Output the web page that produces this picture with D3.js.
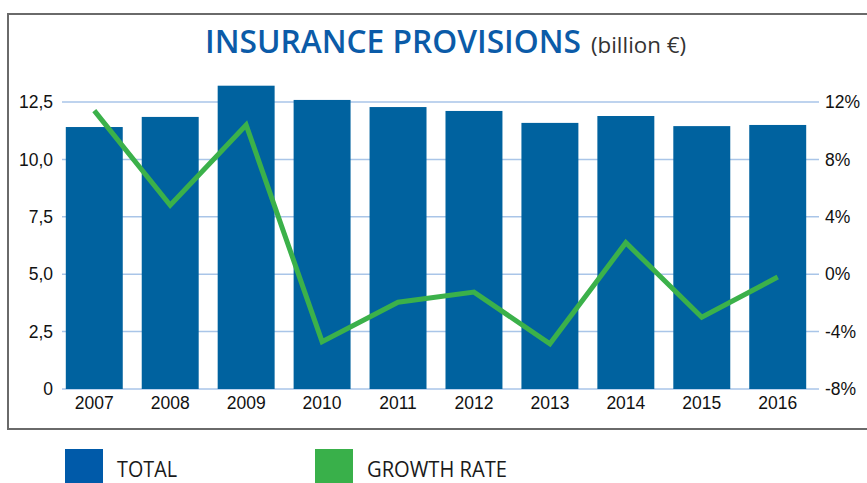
<!DOCTYPE html>
<html>
<head>
<meta charset="utf-8">
<script src="https://cdn.jsdelivr.net/npm/d3@7"></script>
<style>
  body { margin: 0; background: #fff; }
  svg { display: block; font-family: 'Open Sans', sans-serif; }
  .axis text { font-size: 17.5px; fill: #111; }
</style>
</head>
<body>
<svg class="visual" width="867" height="483"></svg>
<script>
// values
const YEARS = ['2007', '2008', '2009', '2010', '2011', '2012', '2013', '2014', '2015', '2016'];
const TOTAL = [11.41, 11.85, 13.21, 12.59, 12.28, 12.11, 11.59, 11.89, 11.45, 11.50];
const GROWTH = [11.4, 4.8, 10.4, -4.7, -1.95, -1.25, -4.85, 2.2, -3.0, -0.2];
const LEFT_TICKS = [0, 2.5, 5, 7.5, 10, 12.5];
const RIGHT_TICKS = [-8, -4, 0, 4, 8, 12];

const barColor = '#00629f';
const lineColor = '#3bb14a';
const gridColor = '#a9c5e8';

const svg = d3.select('svg');

// frame round the chart (right edge runs off the page)
svg.append('rect')
    .attr('x', 8).attr('y', 14)
    .attr('width', 880).attr('height', 415)
    .attr('fill', 'none')
    .attr('stroke', '#6a6a6a')
    .attr('stroke-width', 2);

// title
svg.append('text')
    .attr('x', 205).attr('y', 53)
    .attr('font-size', 33)
    .attr('font-weight', 600)
    .attr('fill', '#0b5ba8')
    .attr('textLength', 376)
    .attr('lengthAdjust', 'spacingAndGlyphs')
    .text('INSURANCE PROVISIONS');
svg.append('text')
    .attr('x', 591).attr('y', 53)
    .attr('font-size', 22)
    .attr('fill', '#333')
    .attr('textLength', 95)
    .attr('lengthAdjust', 'spacingAndGlyphs')
    .text('(billion €)');

const x = d3.scaleBand()
    .domain(YEARS)
    .range([62, 810])
    .paddingInner(0.25)
    .paddingOuter(0.05);

const yLeft = d3.scaleLinear()
    .domain([0, 12.5])
    .range([389, 102]);

const yRight = d3.scaleLinear()
    .domain([-8, 12])
    .range([389, 102]);

// gridlines behind the bars
svg.append('g')
    .selectAll('line')
    .data(LEFT_TICKS)
    .enter()
    .append('line')
    .attr('x1', 62).attr('x2', 819)
    .attr('y1', d => yLeft(d)).attr('y2', d => yLeft(d))
    .attr('stroke', gridColor)
    .attr('stroke-width', 1.5);

// bars
svg.append('g')
    .selectAll('rect')
    .data(TOTAL)
    .enter()
    .append('rect')
    .attr('x', (d, i) => x(YEARS[i]))
    .attr('width', x.bandwidth())
    .attr('y', d => yLeft(d))
    .attr('height', d => yLeft(0) - yLeft(d))
    .attr('fill', barColor);

// growth rate line
const line = d3.line()
    .x((d, i) => x(YEARS[i]) + x.bandwidth() / 2)
    .y(d => yRight(d));

svg.append('path')
    .datum(GROWTH)
    .attr('d', line)
    .attr('fill', 'none')
    .attr('stroke', lineColor)
    .attr('stroke-width', 5);

// axes
const fmtLeft = d => d === 0 ? '0' : d3.format('.1f')(d).replace('.', ',');

svg.append('g')
    .attr('class', 'axis')
    .attr('transform', 'translate(62,0)')
    .call(d3.axisLeft(yLeft).tickValues(LEFT_TICKS).tickSize(0).tickPadding(9).tickFormat(fmtLeft))
    .call(g => g.select('.domain').remove());

svg.append('g')
    .attr('class', 'axis')
    .attr('transform', 'translate(819,0)')
    .call(d3.axisRight(yRight).tickValues(RIGHT_TICKS).tickSize(0).tickPadding(6).tickFormat(d => d + '%'))
    .call(g => g.select('.domain').remove());

svg.append('g')
    .attr('class', 'axis')
    .attr('transform', 'translate(0,389)')
    .call(d3.axisBottom(x).tickSize(0).tickPadding(8))
    .call(g => g.select('.domain').remove());

// legend
const LEGEND = [
    { label: 'TOTAL', color: '#005aa9', x: 65, w: 60 },
    { label: 'GROWTH RATE', color: '#39b04a', x: 315, w: 140 },
];

const legend = svg.append('g')
    .selectAll('g')
    .data(LEGEND)
    .enter()
    .append('g')
    .attr('transform', d => 'translate(' + d.x + ',449)');

legend.append('rect')
    .attr('width', 38).attr('height', 36)
    .attr('fill', d => d.color);

legend.append('text')
    .attr('x', 52).attr('y', 28)
    .attr('font-size', 22)
    .attr('fill', '#1a1a1a')
    .attr('textLength', d => d.w)
    .attr('lengthAdjust', 'spacingAndGlyphs')
    .text(d => d.label);
</script>
</body>
</html>
